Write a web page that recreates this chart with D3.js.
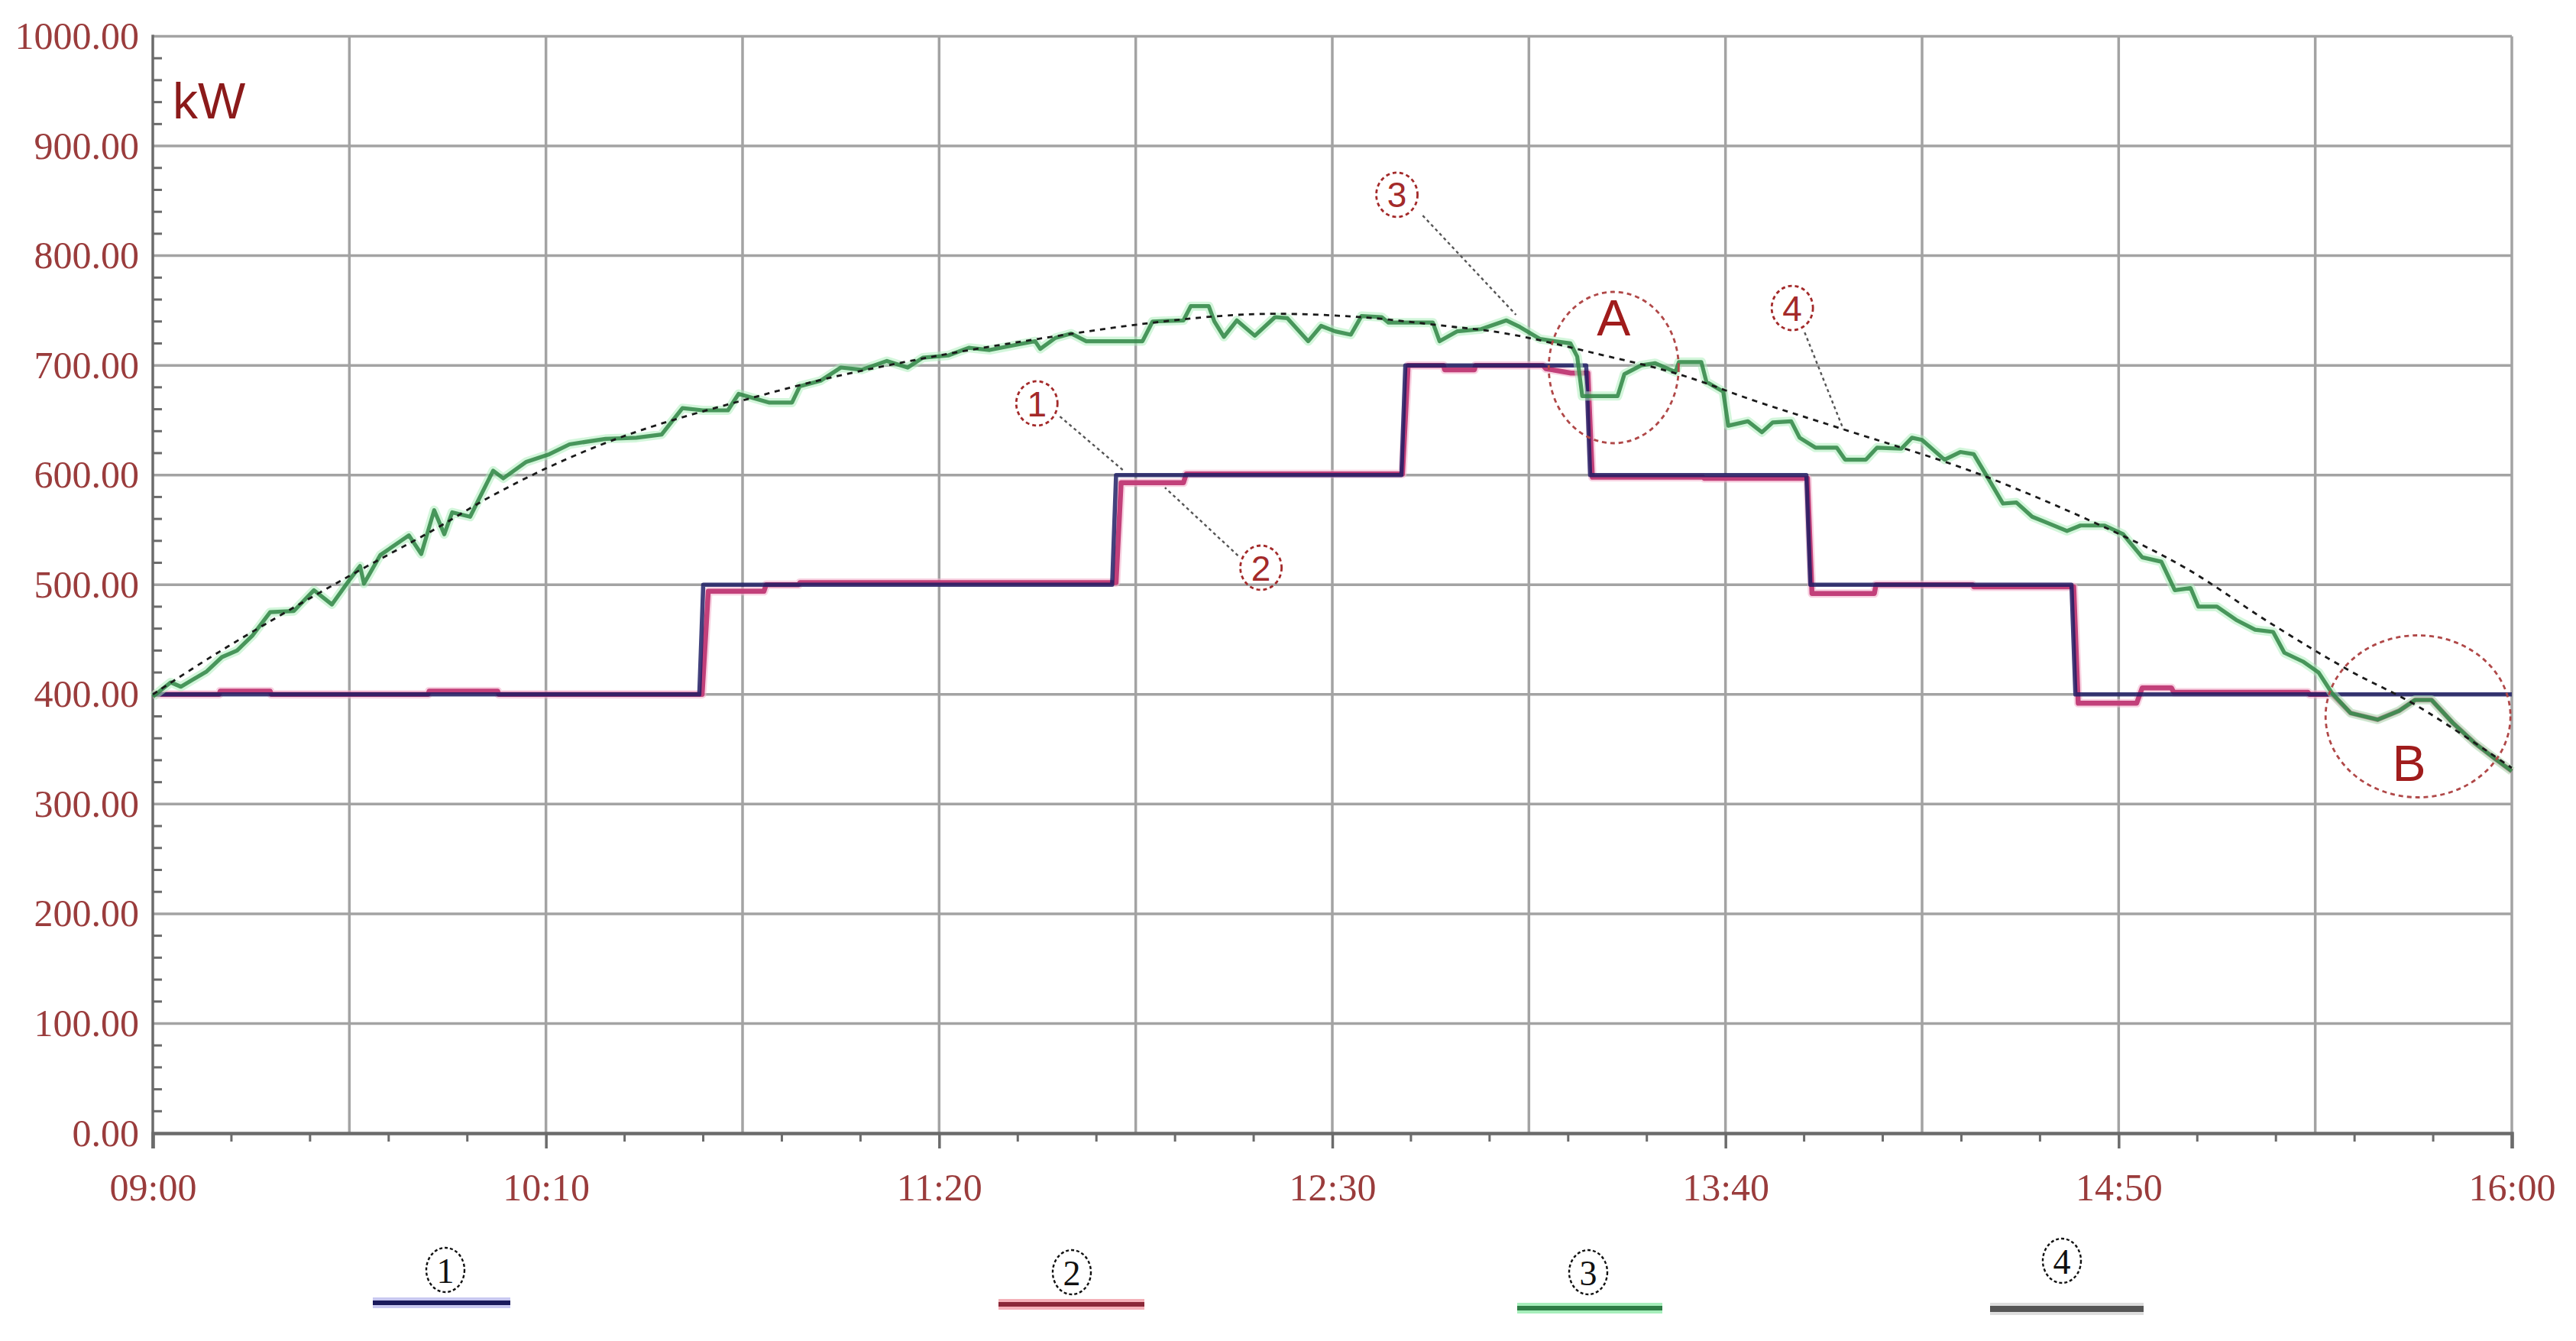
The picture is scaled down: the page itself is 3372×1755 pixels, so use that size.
<!DOCTYPE html>
<html>
<head>
<meta charset="utf-8">
<script src="https://cdn.jsdelivr.net/npm/d3@7"></script>
<style>
  html, body { margin: 0; padding: 0; background: #ffffff; }
  svg { display: block; }
</style>
</head>
<body>
<svg id="chart" width="3372" height="1755"></svg>
<script>
// ---------------- DATA (time = minutes after 09:00, value = kW) ----------------
const xTickMinutes = [0, 70, 140, 210, 280, 350, 420];
const xTickLabels  = ["09:00", "10:10", "11:20", "12:30", "13:40", "14:50", "16:00"];
const yTickValues  = [0, 100, 200, 300, 400, 500, 600, 700, 800, 900, 1000];

// ① command (blue step)
const cmdT = [0, 97.3, 98.0, 170.8, 171.5, 222.3, 223.0, 255.2, 255.9, 294.4, 295.1, 341.6, 342.3, 420];
const cmdV = [400, 400, 500, 500, 600, 600, 700, 700, 600, 600, 500, 500, 400, 400];

// ② actual output (red)
const actT = [0, 11.8, 12.0, 20.9, 21.1, 49.0, 49.2, 61.4, 61.6, 97.8, 98.9, 108.8, 109.2, 115, 115.2,
              171.5, 172.4, 183.5, 184.0, 222.5, 223.5, 229.8, 230.0, 235.3, 235.5, 247.5, 248, 252.5, 255.5, 256.3,
              276, 276.2, 294.6, 295.4, 306.5, 306.8, 324, 324.2, 342.0, 342.8, 353.2, 354.2, 359.4, 359.8, 383.7, 384,
              388, 391.3, 396.1, 399.9, 402.8, 405.7, 409.5, 413.3, 417.1, 420];
const actV = [400, 400, 403, 403, 400, 400, 403, 403, 400, 400, 494, 494, 500, 500, 502,
              502, 593, 593, 601, 601, 700, 700, 696, 696, 700, 700, 697, 693, 693, 598,
              598, 597, 597, 492, 492, 500, 500, 498, 498, 392, 392, 406, 406, 402, 402, 400,
              400, 383, 377, 385, 395, 395, 374, 356, 341, 330];

// ③ PV available power (green)
const pvT = [0, 3.2, 5.0, 9.6, 12.3, 15.0, 17.8, 20.9, 25.1, 28.7, 31.9, 35.1, 36.9, 37.6, 40.5, 45.6, 47.8,
             50.1, 51.9, 53.3, 56.5, 60.6, 62.4, 66.5, 70.6, 74.2, 80.6, 86.1, 90.6, 94.3, 97.9, 102.4, 104.3,
             109.8, 113.8, 115.2, 118.9, 122.5, 126.2, 130.7, 134.4, 137.1, 141.6, 145.3, 149, 153, 157.1, 158,
             160.7, 163.5, 166.2, 176.2, 178, 183.5, 184.8, 188, 189, 190.7, 193, 196.2, 199.8, 202, 205.7, 208,
             210.5, 213.3, 215.2, 218.8, 220, 227.9, 229.1, 232.2, 236.5, 241, 243.4, 247, 252.4, 253.6, 254.5,
             260.8, 262, 265, 267.5, 271.1, 271.7, 275.7, 276.6, 279.6, 280.5, 284, 286.5, 288.4, 291.7, 293.2,
             296, 299.8, 301.3, 305, 307, 311.3, 313.2, 315, 319, 321.8, 324.2, 327, 329.4, 331.8, 334.6, 337,
             340.8, 343.2, 347.5, 350.8, 354.2, 357.6, 360, 362.8, 364.2, 367.5, 370.9, 374.3, 377.5, 379.5,
             382.8, 385.6, 388, 391.3, 396.1, 399.9, 402.8, 405.7, 409.5, 413.3, 417.1, 420];
const pvV = [398, 411, 407, 421, 434, 440, 454, 475, 476, 495, 482, 505, 517, 501, 527, 545, 528,
             568, 546, 566, 562, 604, 597, 612, 619, 628, 633, 634, 637, 661, 659, 659, 674,
             666, 666, 681, 686, 698, 696, 704, 698, 707, 709, 716, 714, 718, 722, 715,
             725, 729, 722, 722, 740, 741, 754, 754, 740, 726, 741, 727, 744, 743, 722, 736,
             731, 728, 745, 744, 739, 739, 722, 731, 733, 741, 735, 724, 720, 708, 672,
             672, 692, 700, 702, 694, 703, 703, 685, 676, 645, 649, 639, 648, 649, 634,
             625, 625, 614, 614, 625, 624, 634, 632, 614, 621, 619, 595, 574, 575, 562, 557,
             549, 554, 554, 546, 525, 521, 495, 497, 480, 480, 468, 459, 457, 438,
             430, 420, 401, 383, 377, 385, 395, 395, 374, 356, 341, 330];

// ④ theoretical curve (black dashed)
const refT = [0, 10, 20, 35, 50, 60, 70, 80, 90, 105, 120, 140, 160, 175, 190, 200, 215, 230, 241,
              257.6, 271.6, 285.6, 300.8, 324.6, 348.5, 362, 377, 391, 403, 420];
const refV = [400, 433, 464, 508, 550, 580, 606, 628, 646, 668, 688, 709, 726, 737, 745, 747, 744, 736, 729,
              710, 692, 667, 642, 602, 550, 515, 465, 422, 390, 333];

const legendLabels = ["1", "2", "3", "4"];

// ---------------- LAYOUT ----------------
const svg = d3.select("#chart");
const L = 200, R = 3288, T = 47.5, B = 1483;
const x = d3.scaleLinear().domain([0, 420]).range([L, R]);
const y = d3.scaleLinear().domain([0, 1000]).range([B, T]);

const zip = (ts, vs) => ts.map((t, i) => [t, vs[i]]);
const lineGen = d3.line().x(d => x(d[0])).y(d => y(d[1]));

const tickColor = "#9a3c3c";
const gridColor = "#a3a3a3";
const serif = "'Liberation Serif', 'Times New Roman', serif";
const sans  = "'Liberation Sans', Arial, sans-serif";

// grid
const grid = svg.append("g");
grid.selectAll("line.h").data(yTickValues.filter(v => v > 0)).join("line")
  .attr("x1", L).attr("x2", R).attr("y1", d => y(d)).attr("y2", d => y(d))
  .attr("stroke", gridColor).attr("stroke-width", 3.5);
grid.selectAll("line.v").data(d3.range(35, 421, 35)).join("line")
  .attr("x1", d => x(d)).attr("x2", d => x(d)).attr("y1", T).attr("y2", B)
  .attr("stroke", gridColor).attr("stroke-width", 3.5);

// axes
const xAxis = d3.axisBottom(x).tickValues(xTickMinutes)
  .tickFormat((d, i) => xTickLabels[i]).tickSize(20).tickPadding(32);
const gx = svg.append("g").attr("transform", `translate(0,${B})`).call(xAxis);
gx.select(".domain").attr("stroke", "#6b6b6b").attr("stroke-width", 4.5);
gx.selectAll(".tick line").attr("stroke", "#6b6b6b").attr("stroke-width", 3.5);
gx.selectAll(".tick text").attr("fill", tickColor).style("font-family", serif).style("font-size", "50px");

// minor x ticks every 14 min
svg.append("g").selectAll("line").data(d3.range(14, 420, 14).filter(d => d % 70 !== 0)).join("line")
  .attr("x1", d => x(d)).attr("x2", d => x(d)).attr("y1", B).attr("y2", B + 11)
  .attr("stroke", "#6b6b6b").attr("stroke-width", 3);

const yAxis = d3.axisLeft(y).tickValues(yTickValues).tickFormat(d3.format(".2f")).tickSize(0).tickPadding(18);
const gy = svg.append("g").attr("transform", `translate(${L},0)`).call(yAxis);
gy.select(".domain").remove();
gy.selectAll(".tick text").attr("fill", tickColor).style("font-family", serif).style("font-size", "50px");
svg.append("line").attr("x1", L).attr("x2", L).attr("y1", T - 2).attr("y2", B + 20)
  .attr("stroke", "#6b6b6b").attr("stroke-width", 3.5);
// minor y ticks (inside) every 20
svg.append("g").selectAll("line").data(d3.range(20, 1000, 20).filter(d => d % 100 !== 0)).join("line")
  .attr("x1", L).attr("x2", L + 12).attr("y1", d => y(d)).attr("y2", d => y(d))
  .attr("stroke", "#6b6b6b").attr("stroke-width", 3);

// ---------------- SERIES ----------------
const series = svg.append("g").attr("fill", "none").attr("stroke-linejoin", "round");

// ② red
series.append("path").datum(zip(actT, actV)).attr("d", lineGen)
  .attr("stroke", "#f3b6cf").attr("stroke-width", 11).attr("opacity", 0.6);
series.append("path").datum(zip(actT, actV)).attr("d", lineGen)
  .attr("stroke", "#c2407a").attr("stroke-width", 6.5);
// ① blue
series.append("path").datum(zip(cmdT, cmdV)).attr("d", lineGen)
  .attr("stroke", "#1a1a62").attr("stroke-width", 5.5).attr("opacity", 0.82);
// ③ green
series.append("path").datum(zip(pvT, pvV)).attr("d", lineGen)
  .attr("stroke", "#aeeebe").attr("stroke-width", 12).attr("opacity", 0.55);
series.append("path").datum(zip(pvT, pvV)).attr("d", lineGen)
  .attr("stroke", "#318646").attr("stroke-width", 5.2).attr("opacity", 0.86);
// ④ dashed reference
series.append("path").datum(zip(refT, refV))
  .attr("d", d3.line().x(d => x(d[0])).y(d => y(d[1])).curve(d3.curveCatmullRom))
  .attr("stroke", "#1a1a1a").attr("stroke-width", 2.8).attr("stroke-dasharray", "7,7");

// ---------------- ANNOTATIONS ----------------
const ann = svg.append("g");
const annRed = "#a32a2a";
ann.append("text").attr("x", 226).attr("y", 155).text("kW")
  .attr("fill", "#8b1a1a").style("font-family", sans).style("font-size", "66px");

const callouts = [
  { lab: "1", c: [157.4, 665.3], a: [161.5, 653.4], b: [173.0, 603.3] },
  { lab: "2", c: [197.3, 515.5], a: [193.2, 526.6], b: [180.2, 588.6] },
  { lab: "3", c: [221.5, 855.5], a: [226.1, 836.6], b: [242.7, 746.1] },
  { lab: "4", c: [291.9, 752.3], a: [294.1, 730.0], b: [301.0, 641.6] }
];
callouts.forEach(o => {
  ann.append("line").attr("x1", x(o.a[0])).attr("y1", y(o.a[1])).attr("x2", x(o.b[0])).attr("y2", y(o.b[1]))
    .attr("stroke", "#555").attr("stroke-width", 2.4).attr("stroke-dasharray", "4,4");
  ann.append("ellipse").attr("cx", x(o.c[0])).attr("cy", y(o.c[1])).attr("rx", 27).attr("ry", 29)
    .attr("fill", "none").attr("stroke", annRed).attr("stroke-width", 2.8).attr("stroke-dasharray", "5,4");
  ann.append("text").attr("x", x(o.c[0])).attr("y", y(o.c[1])).attr("dy", "0.36em")
    .attr("text-anchor", "middle").text(o.lab).attr("fill", annRed)
    .style("font-family", sans).style("font-size", "46px");
});

// circles A and B
const zones = [
  { lab: "A", c: [260.1, 698], rx: 85, ry: 99, t: [260.1, 744] },
  { lab: "B", c: [403.3, 380], rx: 121, ry: 106, t: [401.7, 338] }
];
zones.forEach(z => {
  ann.append("ellipse").attr("cx", x(z.c[0])).attr("cy", y(z.c[1])).attr("rx", z.rx).attr("ry", z.ry)
    .attr("fill", "none").attr("stroke", "#b04848").attr("stroke-width", 2.8).attr("stroke-dasharray", "6,5");
  ann.append("text").attr("x", x(z.t[0])).attr("y", y(z.t[1])).attr("dy", "0.36em")
    .attr("text-anchor", "middle").text(z.lab).attr("fill", "#a01c1c")
    .style("font-family", sans).style("font-size", "66px");
});

// ---------------- LEGEND ----------------
const legendItems = [
  { cx: 583, cy: 1662, x1: 488, x2: 668, ly: 1705, color: "#1a1a5c", halo: "#c8c8f0", w: 6 },
  { cx: 1403, cy: 1665, x1: 1307, x2: 1498, ly: 1707, color: "#8b2838", halo: "#f4b0b8", w: 6 },
  { cx: 2079, cy: 1665, x1: 1986, x2: 2176, ly: 1712, color: "#2e7d46", halo: "#a6eebb", w: 6 },
  { cx: 2699, cy: 1650, x1: 2605, x2: 2806, ly: 1713, color: "#555555", halo: "#dddddd", w: 8 }
];
const lg = svg.append("g");
legendItems.forEach((it, i) => {
  lg.append("line").attr("x1", it.x1).attr("x2", it.x2).attr("y1", it.ly).attr("y2", it.ly)
    .attr("stroke", it.halo).attr("stroke-width", it.w + 8);
  lg.append("line").attr("x1", it.x1).attr("x2", it.x2).attr("y1", it.ly).attr("y2", it.ly)
    .attr("stroke", it.color).attr("stroke-width", it.w);
  lg.append("ellipse").attr("cx", it.cx).attr("cy", it.cy).attr("rx", 25).attr("ry", 29)
    .attr("fill", "none").attr("stroke", "#111").attr("stroke-width", 2.4).attr("stroke-dasharray", "4,3");
  lg.append("text").attr("x", it.cx).attr("y", it.cy).attr("dy", "0.36em").attr("text-anchor", "middle")
    .text(legendLabels[i]).attr("fill", "#111").style("font-family", serif).style("font-size", "46px");
});
</script>
</body>
</html>
